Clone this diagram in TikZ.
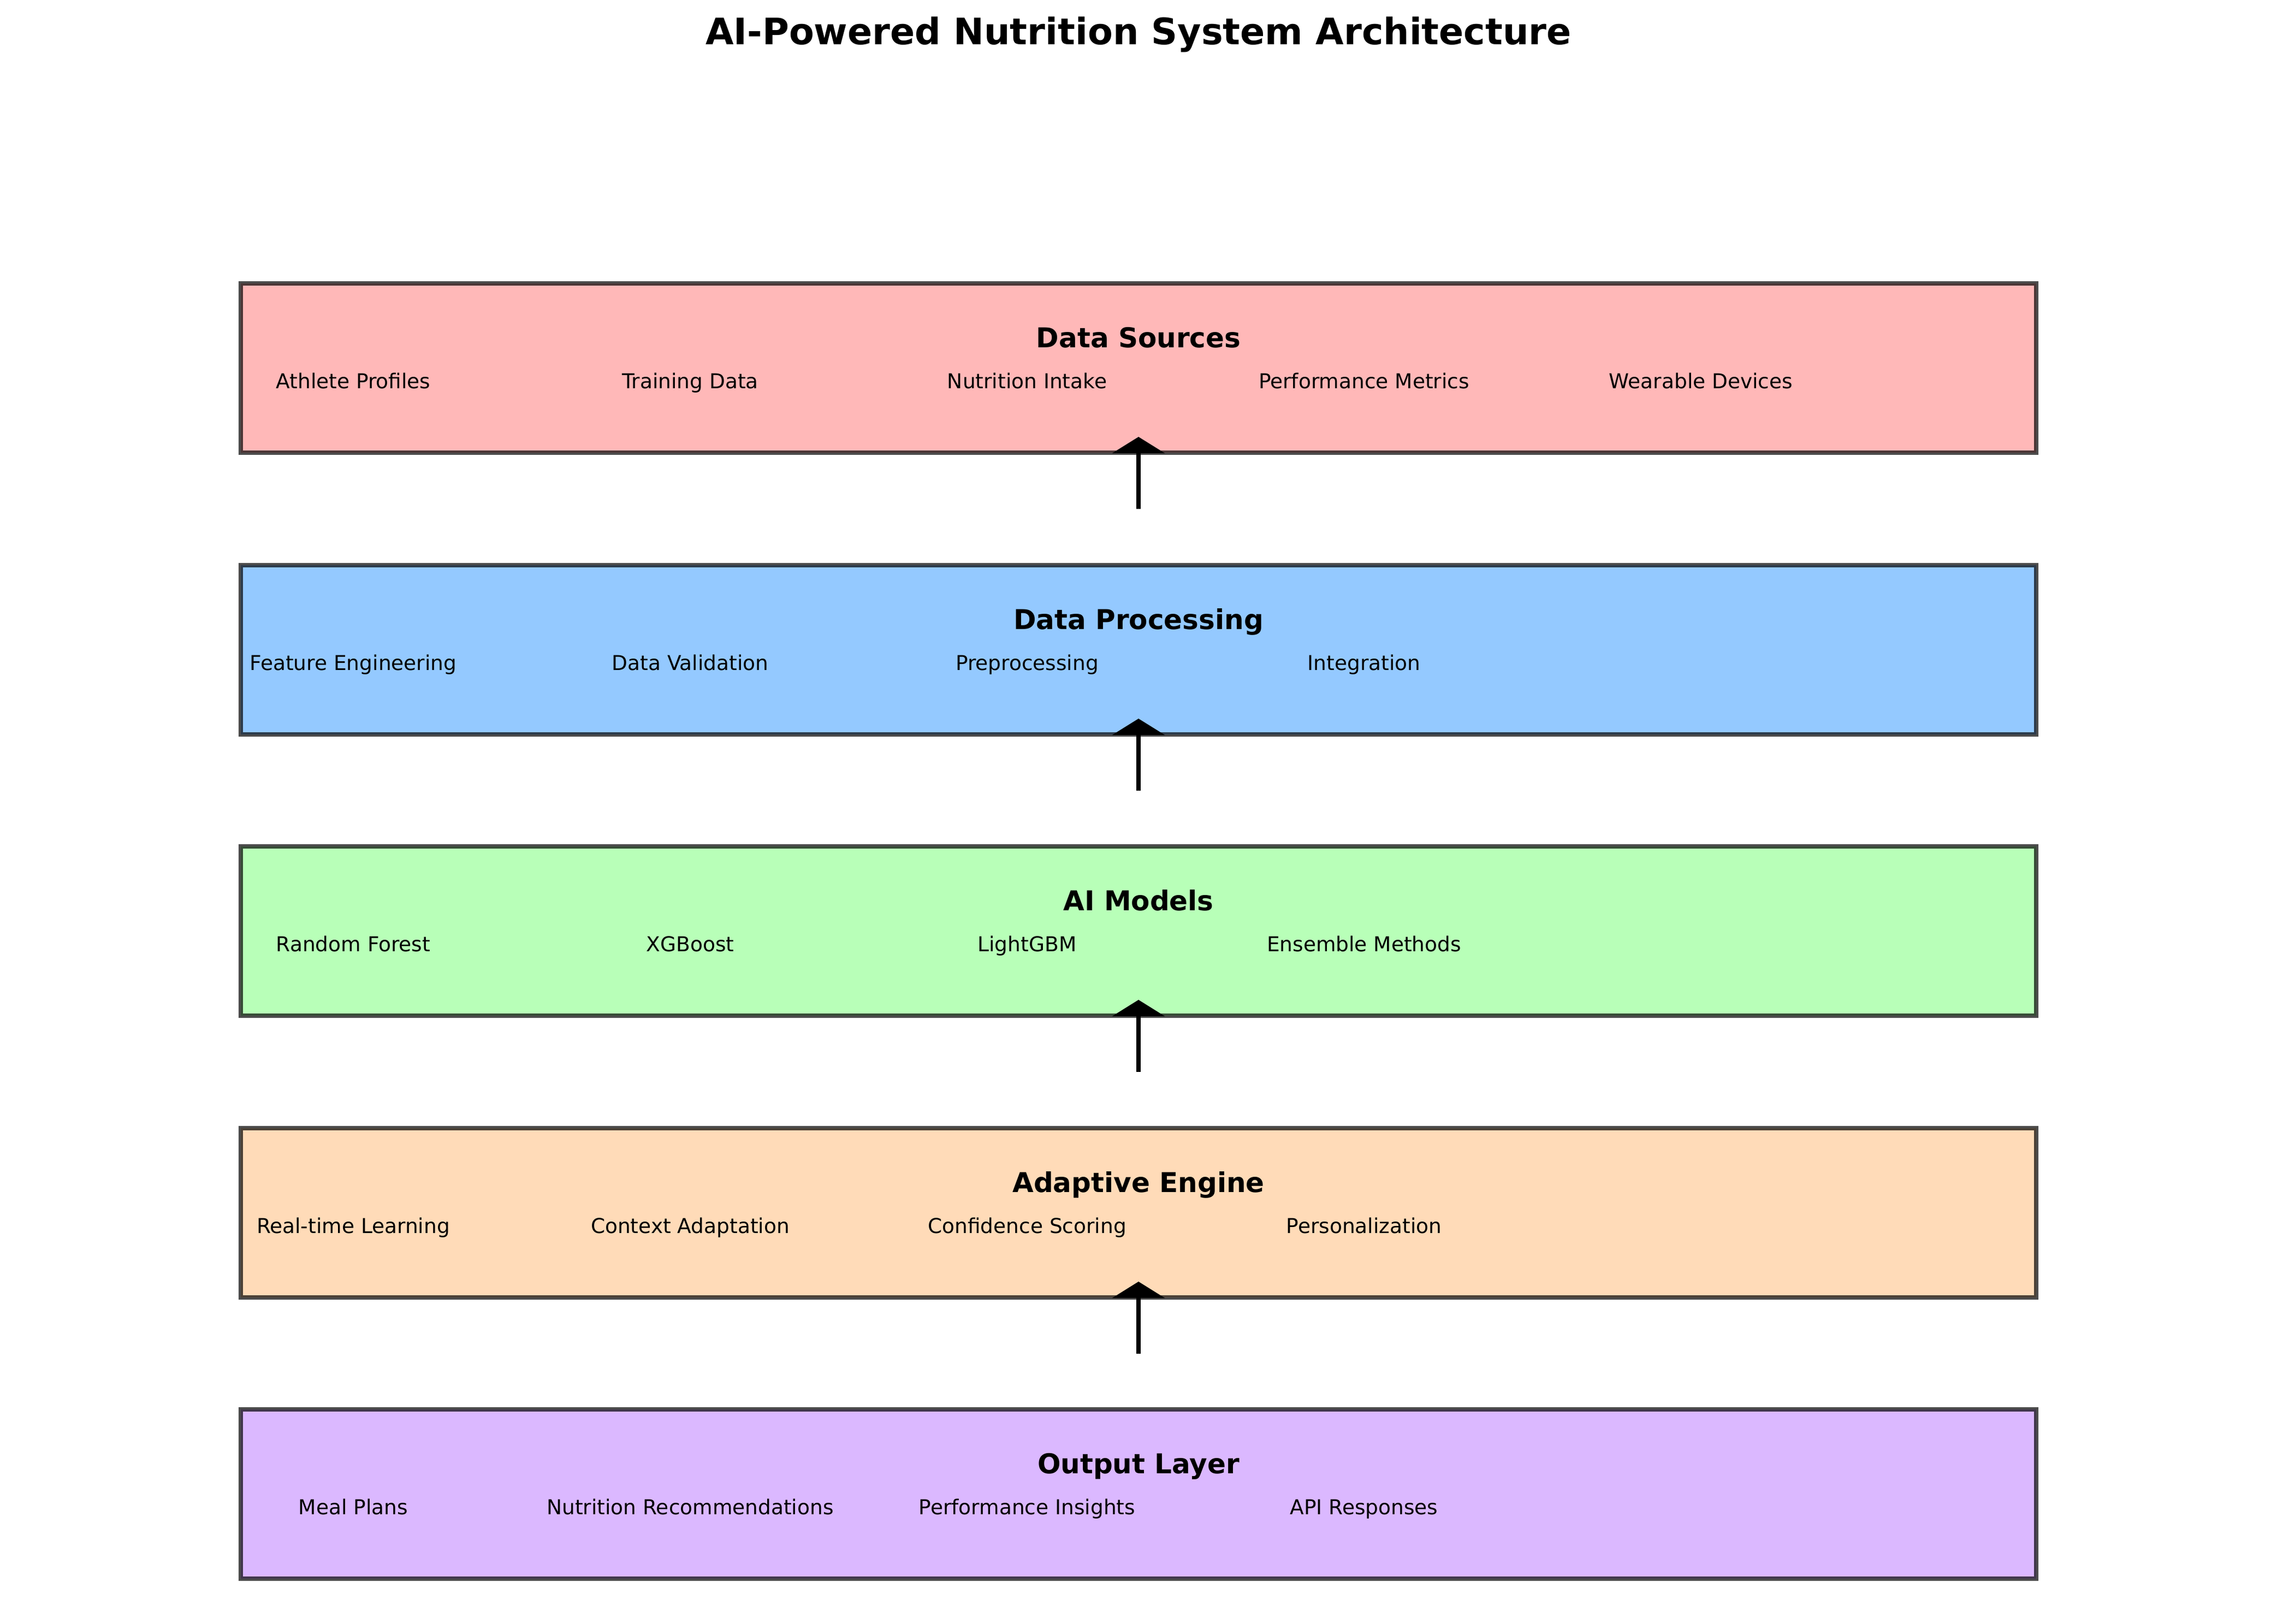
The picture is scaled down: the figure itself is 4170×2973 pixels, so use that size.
\documentclass[tikz,border=0pt]{standalone}
\usepackage{fontspec}
\setmainfont{DejaVu Sans}
\usetikzlibrary{arrows.meta}

\definecolor{srcred}{HTML}{FFB8B8}
\definecolor{procblue}{HTML}{94C9FF}
\definecolor{modelgreen}{HTML}{B8FFB8}
\definecolor{enginepeach}{HTML}{FFDBB8}
\definecolor{outpurple}{HTML}{DBB8FF}

\begin{document}
\begin{tikzpicture}[
    x=0.24pt, y=-0.24pt,
    layer/.style={rectangle, draw=black, draw opacity=0.7, line width=1.92pt,
        minimum width=789.1pt, minimum height=74.4pt, inner sep=0pt, outer sep=0pt},
    heading/.style={anchor=base, font=\fontsize{12}{14}\selectfont\bfseries},
    item/.style={anchor=base, font=\fontsize{9}{11}\selectfont},
    flow/.style={line width=1.92pt, -{Triangle[width=22.8pt, length=7.2pt]}}
]
    \useasboundingbox (0,0) rectangle (4170,2973);
    \node[anchor=base, font=\fontsize{16}{19}\selectfont\bfseries] (title) at (2085,82)
        {AI-Powered Nutrition System Architecture};

    % layers
    \node[layer, fill=srcred] (sources) at (2085,674) {};
    \node[layer, fill=procblue] (processing) at (2085,1190) {};
    \node[layer, fill=modelgreen] (models) at (2085,1705) {};
    \node[layer, fill=enginepeach] (engine) at (2085,2221) {};
    \node[layer, fill=outpurple] (output) at (2085,2736) {};

    % data sources
    \node[heading] (sources-head) at (2085,636) {Data Sources};
    \node[item] (src1) at (647,711) {Athlete Profiles};
    \node[item] (src2) at (1264,711) {Training Data};
    \node[item] (src3) at (1881,711) {Nutrition Intake};
    \node[item] (src4) at (2498,711) {Performance Metrics};
    \node[item] (src5) at (3115,711) {Wearable Devices};

    % data processing
    \node[heading] (processing-head) at (2085,1152) {Data Processing};
    \node[item] (proc1) at (647,1227) {Feature Engineering};
    \node[item] (proc2) at (1264,1227) {Data Validation};
    \node[item] (proc3) at (1881,1227) {Preprocessing};
    \node[item] (proc4) at (2498,1227) {Integration};

    % ai models
    \node[heading] (models-head) at (2085,1667) {AI Models};
    \node[item] (mod1) at (647,1742) {Random Forest};
    \node[item] (mod2) at (1264,1742) {XGBoost};
    \node[item] (mod3) at (1881,1742) {LightGBM};
    \node[item] (mod4) at (2498,1742) {Ensemble Methods};

    % adaptive engine
    \node[heading] (engine-head) at (2085,2183) {Adaptive Engine};
    \node[item] (eng1) at (647,2258) {Real-time Learning};
    \node[item] (eng2) at (1264,2258) {Context Adaptation};
    \node[item] (eng3) at (1881,2258) {Confidence Scoring};
    \node[item] (eng4) at (2498,2258) {Personalization};

    % output layer
    \node[heading] (output-head) at (2085,2698) {Output Layer};
    \node[item] (out1) at (647,2773) {Meal Plans};
    \node[item] (out2) at (1264,2773) {Nutrition Recommendations};
    \node[item] (out3) at (1881,2773) {Performance Insights};
    \node[item] (out4) at (2498,2773) {API Responses};

    % flow between layers
    \coordinate (gap1) at (2085,932);
    \coordinate (gap2) at (2085,1448);
    \coordinate (gap3) at (2085,1963);
    \coordinate (gap4) at (2085,2479);
    \draw[flow] (gap1) -- ([yshift=6.96pt]sources.south);
    \draw[flow] (gap2) -- ([yshift=6.96pt]processing.south);
    \draw[flow] (gap3) -- ([yshift=6.96pt]models.south);
    \draw[flow] (gap4) -- ([yshift=6.96pt]engine.south);
\end{tikzpicture}
\end{document}
